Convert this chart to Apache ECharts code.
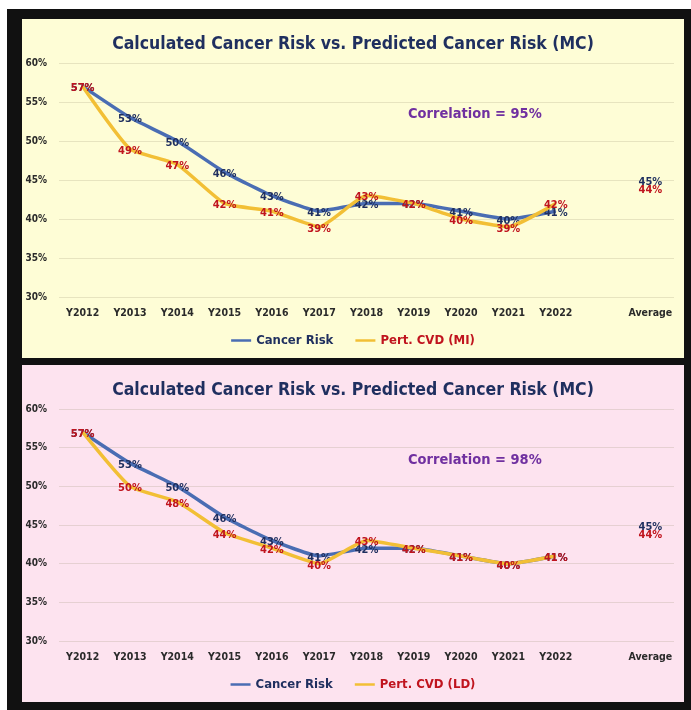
<!DOCTYPE html>
<html>
<head>
<meta charset="utf-8">
<script src="https://cdn.jsdelivr.net/npm/echarts@6/dist/echarts.min.js"></script>
<style>
  body { margin: 0; background: #ffffff; }
  #frame { position: absolute; left: 7px; top: 9px; width: 684px; height: 701px; background: #111111; }
  .panel { position: absolute; left: 22px; width: 662px; }
  #top { top: 19px; height: 339px; background: #fefdd6; }
  #bottom { top: 365px; height: 337px; background: #fde3ef; }
</style>
</head>
<body>
<div id="frame"></div>
<div class="panel" id="top"></div>
<div class="panel" id="bottom"></div>
<script>
// x categories (one empty slot before the average)
var categories = ['Y2012', 'Y2013', 'Y2014', 'Y2015', 'Y2016', 'Y2017', 'Y2018', 'Y2019', 'Y2020', 'Y2021', 'Y2022', '', 'Average'];

// top chart (MI)
var cancerRiskMI = [57, 53, 50, 46, 43, 41, 42, 42, 41, 40, 41];
var pertCvdMI    = [57, 49, 47, 42, 41, 39, 43, 42, 40, 39, 42];
var avgCancerMI = 45;
var avgCvdMI = 44;

// bottom chart (LD)
var cancerRiskLD = [57, 53, 50, 46, 43, 41, 42, 42, 41, 40, 41];
var pertCvdLD    = [57, 50, 48, 44, 42, 40, 43, 42, 41, 40, 41];
var avgCancerLD = 45;
var avgCvdLD = 44;

// y axis ticks
var yMin = 30, yMax = 60, yStep = 5;

var FONT = "'Liberation Sans Narrow', 'DejaVu Sans Condensed', 'Liberation Sans', sans-serif";
var NAVY = '#1f2f5f';
var RED = '#c0141e';

function lineSeries(name, values, avg, color, labelColor, z) {
  return {
    name: name,
    type: 'line',
    data: values.concat(['-', avg]),
    smooth: 0.15,
    connectNulls: false,
    symbol: 'circle',
    symbolSize: 1,
    z: z,
    lineStyle: { color: color, width: 3.5 },
    itemStyle: { color: color },
    label: {
      show: true,
      position: 'inside',
      offset: [0, 2],
      formatter: '{c}%',
      color: labelColor,
      fontFamily: FONT,
      fontWeight: 'bold',
      fontSize: 11
    }
  };
}

function buildOption(corrText, cvdName, cancer, cvd, avgCancer, avgCvd) {
  return {
    animation: false,
    title: {
      text: 'Calculated Cancer Risk vs. Predicted Cancer Risk (MC)',
      left: 'center',
      top: 11,
      textStyle: { color: NAVY, fontFamily: FONT, fontWeight: 'bold', fontSize: 17.5 }
    },
    graphic: [{
      type: 'text',
      left: 386,
      top: 88,
      style: { text: corrText, fill: '#7030a0', font: 'bold 14.5px ' + FONT }
    }],
    legend: {
      bottom: 6,
      left: 'center',
      icon: 'rect',
      itemWidth: 20,
      itemHeight: 2.5,
      itemGap: 22,
      textStyle: { fontFamily: FONT, fontWeight: 'bold', fontSize: 13 },
      data: [
        { name: 'Cancer Risk', textStyle: { color: NAVY } },
        { name: cvdName, textStyle: { color: RED } }
      ]
    },
    grid: { left: 37, right: 10, top: 44, bottom: 61, containLabel: false, outerBoundsMode: 'none' },
    xAxis: {
      type: 'category',
      data: categories,
      boundaryGap: true,
      axisLine: { show: false },
      axisTick: { show: false },
      axisLabel: { color: '#2a2a2a', fontFamily: FONT, fontWeight: 'bold', fontSize: 10.5, margin: 11, interval: 0 }
    },
    yAxis: {
      type: 'value',
      min: yMin,
      max: yMax,
      interval: yStep,
      axisLine: { show: false },
      axisTick: { show: false },
      axisLabel: { formatter: '{value}%', color: '#2a2a2a', fontFamily: FONT, fontWeight: 'bold', fontSize: 10, margin: 12 },
      splitLine: { lineStyle: { color: 'rgba(150,140,110,0.22)', width: 1 } }
    },
    series: [
      lineSeries('Cancer Risk', cancer, avgCancer, '#4a6db3', NAVY, 2),
      lineSeries(cvdName, cvd, avgCvd, '#f2bf35', RED, 3)
    ]
  };
}

var topChart = echarts.init(document.getElementById('top'));
topChart.setOption(buildOption('Correlation = 95%', 'Pert. CVD (MI)', cancerRiskMI, pertCvdMI, avgCancerMI, avgCvdMI));

var bottomChart = echarts.init(document.getElementById('bottom'));
bottomChart.setOption(buildOption('Correlation = 98%', 'Pert. CVD (LD)', cancerRiskLD, pertCvdLD, avgCancerLD, avgCvdLD));
</script>
</body>
</html>
